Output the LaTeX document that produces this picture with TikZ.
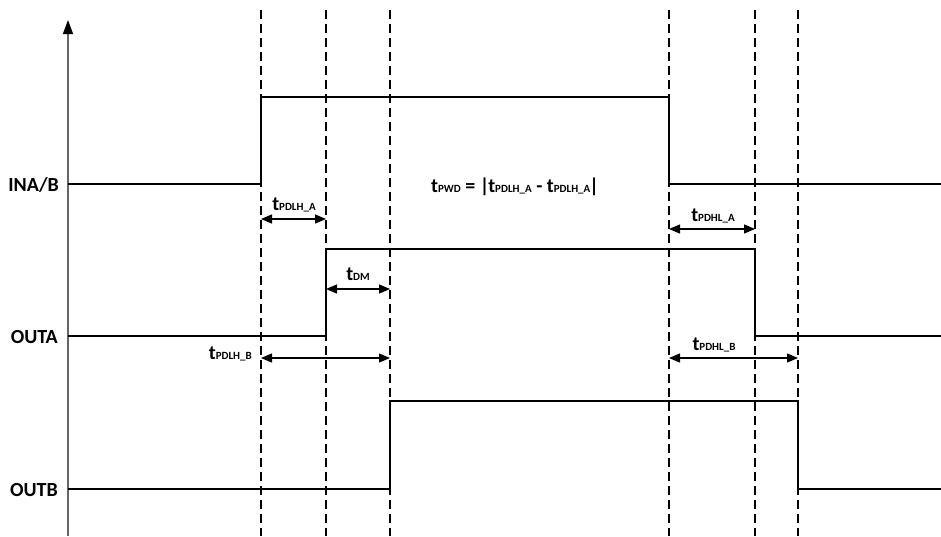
\documentclass[tikz,border=0pt]{standalone}
\usepackage{fontspec}
\setmainfont{Carlito}
\usetikzlibrary{arrows.meta}
\newcommand{\tsub}[1]{\textbf{\fontsize{20}{22}\selectfont t\fontsize{11}{12}\selectfont #1}}
\begin{document}
\begin{tikzpicture}[x=1pt,y=-1pt,
  sig/.style={line width=1.5pt,black},
  guide/.style={line width=1.1pt,dash pattern=on 9pt off 5pt,black},
  meas/.style={line width=1.3pt,{Triangle[length=11pt,width=9pt]}-{Triangle[length=11pt,width=9pt]}},
  lab/.style={font=\bfseries\fontsize{20}{22}\selectfont,anchor=east,inner sep=0pt},
  tl/.style={inner sep=0pt,anchor=base}]
\useasboundingbox (0,0) rectangle (941,536);
% guides
\foreach \n/\x in {a/261,b/326,c/390,d/669,e/755,f/798}{
  \coordinate (g\n top) at (\x,10);
  \coordinate (g\n bot) at (\x,536);
  \draw[guide] (g\n top) -- (g\n bot);
}
% axis
\coordinate (ax0) at (68,536);
\coordinate (ax1) at (68,20);
\draw[line width=1.5pt,black!60,-{Triangle[length=14pt,width=10pt,fill=black,color=black]}] (ax0) -- (ax1);
% signal labels
\node[lab] (lin) at (59,185) {INA/B};
\node[lab] (la) at (58,337) {OUTA};
\node[lab] (lb) at (58,490) {OUTB};
% signals
\draw[sig] (68,184) -- (261,184) -- (261,97) -- (669,97) -- (669,184) -- (941,184);
\draw[sig] (68,336) -- (326,336) -- (326,249) -- (755,249) -- (755,336) -- (941,336);
\draw[sig] (68,489) -- (390,489) -- (390,401) -- (798,401) -- (798,489) -- (941,489);
% measurements
\coordinate (m1a) at (261,219); \coordinate (m1b) at (326,219);
\draw[meas] (m1a) -- (m1b);
\node[tl] (t1) at (294,210) {\tsub{PDLH\_A}};
\coordinate (m2a) at (326,289); \coordinate (m2b) at (390,289);
\draw[meas] (m2a) -- (m2b);
\node[tl] (t2) at (358,280) {\tsub{DM}};
\coordinate (m3a) at (261,358); \coordinate (m3b) at (390,358);
\draw[meas] (m3a) -- (m3b);
\node[tl,anchor=base east] (t3) at (252,359) {\tsub{PDLH\_B}};
\coordinate (m4a) at (669,229); \coordinate (m4b) at (755,229);
\draw[meas] (m4a) -- (m4b);
\node[tl] (t4) at (713,221) {\tsub{PDHL\_A}};
\coordinate (m5a) at (669,358); \coordinate (m5b) at (798,358);
\draw[meas] (m5a) -- (m5b);
\node[tl] (t5) at (714,350) {\tsub{PDHL\_B}};
% formula
\node[tl] (pwd) at (515,192) {\tsub{PWD}\textbf{\fontsize{20}{22}\selectfont\ =\ |}\kern-1pt\tsub{PDLH\_A}\textbf{\fontsize{20}{22}\selectfont\ -\ }\tsub{PDLH\_A}\kern-1pt\textbf{\fontsize{20}{22}\selectfont |}};
\end{tikzpicture}
\end{document}
